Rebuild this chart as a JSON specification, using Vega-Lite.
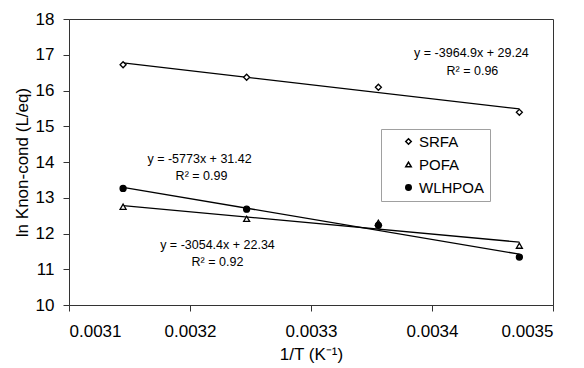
{
  "$schema": "https://vega.github.io/schema/vega-lite/v6.json",
  "width": 484,
  "height": 286,
  "autosize": {"type": "none"},
  "padding": {"left": 69, "top": 19, "right": 31, "bottom": 63},
  "background": "white",
  "config": {
    "font": "Liberation Sans",
    "view": {"stroke": "#333333", "strokeWidth": 1},
    "axis": {
      "grid": false,
      "domainColor": "#333333",
      "tickColor": "#333333",
      "labelColor": "#000000",
      "titleColor": "#000000",
      "labelFont": "Liberation Sans",
      "titleFont": "Liberation Sans",
      "labelFontSize": 17,
      "titleFontSize": 17,
      "titleFontWeight": "normal",
      "tickSize": 6,
      "labelOverlap": false
    }
  },
  "datasets": {
    "pts": [
      {"x": 0.0031447, "y": 16.72, "series": "SRFA"},
      {"x": 0.0032468, "y": 16.37, "series": "SRFA"},
      {"x": 0.0033557, "y": 16.09, "series": "SRFA"},
      {"x": 0.0034722, "y": 15.39, "series": "SRFA"},
      {"x": 0.0031447, "y": 12.75, "series": "POFA"},
      {"x": 0.0032468, "y": 12.41, "series": "POFA"},
      {"x": 0.0033557, "y": 12.30, "series": "POFA"},
      {"x": 0.0034722, "y": 11.66, "series": "POFA"},
      {"x": 0.0031447, "y": 13.26, "series": "WLHPOA"},
      {"x": 0.0032468, "y": 12.68, "series": "WLHPOA"},
      {"x": 0.0033557, "y": 12.23, "series": "WLHPOA"},
      {"x": 0.0034722, "y": 11.34, "series": "WLHPOA"}
    ],
    "labels": [
      {"x": 0.0034326, "y": 17.05, "t": "y = -3964.9x + 29.24"},
      {"x": 0.0034334, "y": 16.55, "t": "R² = 0.96"},
      {"x": 0.0032079, "y": 14.08, "t": "y = -5773x + 31.42"},
      {"x": 0.0032095, "y": 13.61, "t": "R² = 0.99"},
      {"x": 0.0032227, "y": 11.68, "t": "y = -3054.4x + 22.34"},
      {"x": 0.0032227, "y": 11.20, "t": "R² = 0.92"}
    ]
  },
  "encoding": {
    "x": {
      "field": "x", "type": "quantitative",
      "scale": {"domain": [0.0031, 0.0035], "nice": false, "zero": false},
      "axis": {"values": [0.0031, 0.0032, 0.0033, 0.0034, 0.0035], "format": ".4f", "title": "1/T (K⁻¹)", "labelPadding": 12, "titlePadding": 7, "labelOverlap": false}
    },
    "y": {
      "field": "y", "type": "quantitative",
      "scale": {"domain": [10, 18], "nice": false, "zero": false},
      "axis": {"values": [10, 11, 12, 13, 14, 15, 16, 17, 18], "format": "d", "title": "ln Knon-cond (L/eq)", "labelPadding": 9, "titlePadding": 4, "labelOverlap": false}
    }
  },
  "layer": [
    {
      "data": {"name": "pts"},
      "transform": [{"regression": "y", "on": "x", "groupby": ["series"]}],
      "mark": {"type": "line", "color": "#000000", "strokeWidth": 1.3},
      "encoding": {
        "detail": {"field": "series"}
      }
    },
    {
      "data": {"name": "pts"},
      "mark": {"type": "point", "stroke": "#000000", "strokeWidth": 1.3, "size": 36, "opacity": 1},
      "encoding": {
        "shape": {
          "field": "series", "type": "nominal",
          "scale": {"domain": ["SRFA", "POFA", "WLHPOA"], "range": ["diamond", "triangle-up", "circle"]},
          "legend": {
            "title": null, "orient": "none", "legendX": 312, "legendY": 110,
            "strokeColor": "#a0a0a0", "fillColor": "white", "padding": 5,
            "symbolOffset": 15, "labelOffset": 3,
            "labelFontSize": 15, "labelFont": "Liberation Sans", "labelColor": "#000000",
            "rowPadding": 7, "symbolSize": 30,
            "encode": {"symbols": {"update": {"stroke": {"value": "#000000"}, "strokeWidth": {"value": 1.3}}}}
          }
        },
        "fill": {
          "field": "series", "type": "nominal",
          "scale": {"domain": ["SRFA", "POFA", "WLHPOA"], "range": ["#ffffff", "#ffffff", "#000000"]},
          "legend": {
            "title": null, "orient": "none", "legendX": 312, "legendY": 110,
            "strokeColor": "#a0a0a0", "fillColor": "white", "padding": 5,
            "symbolOffset": 15, "labelOffset": 3,
            "labelFontSize": 15, "labelFont": "Liberation Sans", "labelColor": "#000000",
            "rowPadding": 7, "symbolSize": 30,
            "encode": {"symbols": {"update": {"stroke": {"value": "#000000"}, "strokeWidth": {"value": 1.3}}}}
          }
        }
      }
    },
    {
      "data": {"name": "labels"},
      "mark": {"type": "text", "font": "Liberation Sans", "fontSize": 12.5, "color": "#000000", "align": "center", "baseline": "middle"},
      "encoding": {
        "text": {"field": "t"}
      }
    }
  ]
}
